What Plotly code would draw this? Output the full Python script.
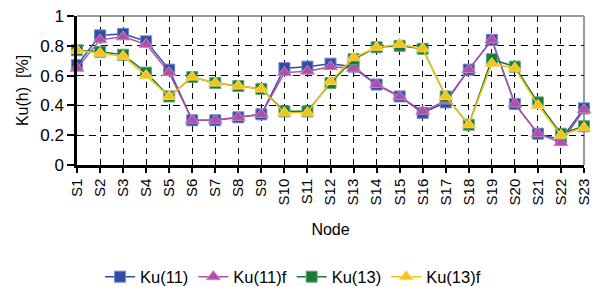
import plotly.graph_objects as go

nodes = ["S%d" % i for i in range(1, 24)]

ku11 = [0.67, 0.87, 0.88, 0.83, 0.64, 0.30, 0.30, 0.32, 0.34, 0.65, 0.66, 0.68,
        0.66, 0.54, 0.46, 0.35, 0.42, 0.64, 0.84, 0.41, 0.21, 0.17, 0.38]
ku11f = [0.65, 0.84, 0.86, 0.81, 0.62, 0.30, 0.30, 0.32, 0.34, 0.62, 0.63, 0.66,
         0.65, 0.54, 0.46, 0.36, 0.43, 0.64, 0.84, 0.41, 0.21, 0.15, 0.37]
ku13 = [0.77, 0.76, 0.74, 0.62, 0.46, 0.59, 0.55, 0.53, 0.51, 0.36, 0.36, 0.55,
        0.71, 0.79, 0.80, 0.78, 0.46, 0.27, 0.71, 0.66, 0.42, 0.21, 0.26]
ku13f = [0.77, 0.75, 0.73, 0.60, 0.46, 0.59, 0.55, 0.53, 0.51, 0.35, 0.35, 0.56,
         0.72, 0.79, 0.81, 0.78, 0.46, 0.27, 0.68, 0.65, 0.40, 0.20, 0.25]

series = [
    ("Ku(11)", ku11, "#2E4DA6", "#7088C8", "square", 11),
    ("Ku(11)f", ku11f, "#B04FA8", "#C982C0", "triangle-up", 12),
    ("Ku(13)", ku13, "#1B7A3A", "#62A77A", "square", 11),
    ("Ku(13)f", ku13f, "#F4C518", "#F8DA6A", "triangle-up", 12),
]

font_family = "Liberation Sans, Arial, sans-serif"

fig = go.Figure()
for name, vals, col, edge, sym, sz in series:
    fig.add_trace(go.Scatter(
        x=nodes, y=vals, name=name, mode="lines+markers",
        line=dict(color=col, width=1.5),
        marker=dict(symbol=sym, size=sz, color=col, line=dict(color=edge, width=1)),
        cliponaxis=False,
    ))

fig.update_layout(
    width=592, height=287,
    margin=dict(l=77, r=8, t=16, b=122),
    paper_bgcolor="white", plot_bgcolor="white",
    font=dict(family=font_family, size=16, color="black"),
    showlegend=True,
    legend=dict(orientation="h", xref="container", yref="container",
                x=0.495, xanchor="center", y=0.035, yanchor="middle",
                font=dict(size=16.5), itemwidth=30, tracegroupgap=0,
                bgcolor="rgba(0,0,0,0)"),
    xaxis=dict(
        type="category", range=[0, 22],
        showline=True, linecolor="black", linewidth=2.5,
        ticks="outside", ticklen=5, tickcolor="black", tickwidth=2,
        tickangle=-90, tickfont=dict(size=15),
        showgrid=True, gridcolor="black", gridwidth=1, griddash="6px,5px",
        title=dict(text="Node", font=dict(size=16), standoff=20),
        automargin=False, zeroline=False,
    ),
    yaxis=dict(
        range=[0, 1], dtick=0.2, tick0=0,
        showline=True, linecolor="black", linewidth=2.5,
        ticks="outside", ticklen=7, tickcolor="black", tickwidth=2,
        tickfont=dict(size=17),
        showgrid=True, gridcolor="black", gridwidth=1, griddash="7px,5px",
        title=dict(text="Ku(h)\u00a0 [%]", font=dict(size=16), standoff=8),
        automargin=False, zeroline=False,
    ),
    shapes=[
        dict(type="line", xref="paper", yref="paper", x0=0, x1=1, y0=1, y1=1,
             line=dict(color="#9a9a9a", width=2), layer="below"),
        dict(type="line", xref="paper", yref="paper", x0=1, x1=1, y0=0, y1=1,
             line=dict(color="#9a9a9a", width=2), layer="below"),
    ],
)

fig.write_html("out.html",
               config={"displayModeBar": False},
               post_script="document.body.style.margin='0';document.body.style.overflow='hidden';")
